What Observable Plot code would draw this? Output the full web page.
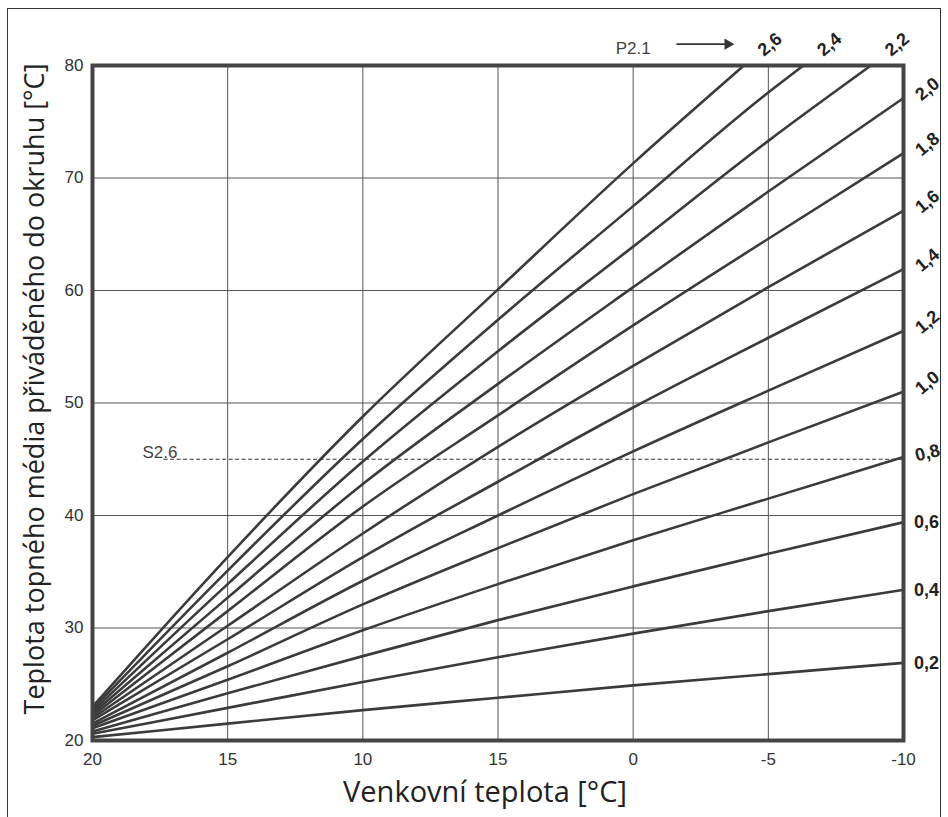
<!DOCTYPE html>
<html>
<head>
<meta charset="utf-8">
<script src="https://cdn.jsdelivr.net/npm/d3@7"></script>
<script src="https://cdn.jsdelivr.net/npm/@observablehq/plot@0.6"></script>
<style>
  html, body { margin: 0; padding: 0; background: #fff; }
  #wrap { position: relative; width: 948px; height: 817px; overflow: hidden; }
  #border { position: absolute; left: 7px; top: 8px; width: 934px; height: 900px; border: 1.5px solid #333; box-sizing: border-box; pointer-events: none; }
  #chart { position: absolute; left: 0; top: 0; }
</style>
</head>
<body>
<div id="wrap"><div id="chart"></div><div id="border"></div></div>
<script>
// Outdoor temperature sample points (°C), left to right
const outdoor = [20, 15, 10, 5, 0, -5, -10];
// Tick values and their printed labels (the original prints "15" at 5 °C)
const xTicks = [20, 15, 10, 5, 0, -5, -10];
const xTickLabels = ["20", "15", "10", "15", "0", "-5", "-10"];
const yTicks = [20, 30, 40, 50, 60, 70, 80];

// Curve names (slope) and flow temperature values read at the outdoor points
const slopes = ["0,2", "0,4", "0,6", "0,8", "1,0", "1,2", "1,4", "1,6", "1,8", "2,0", "2,2", "2,4", "2,6"];
const flow02 = [20.3, 21.5, 22.7, 23.8, 24.9, 25.9, 26.9];
const flow04 = [20.6, 22.9, 25.2, 27.4, 29.5, 31.5, 33.4];
const flow06 = [20.8, 24.2, 27.5, 30.7, 33.7, 36.6, 39.4];
const flow08 = [21.1, 25.4, 29.8, 33.9, 37.8, 41.5, 45.2];
const flow10 = [21.3, 26.6, 32.1, 37.1, 41.9, 46.5, 51.0];
const flow12 = [21.5, 27.8, 34.2, 40.0, 45.7, 51.1, 56.4];
const flow14 = [21.8, 29.0, 36.3, 43.0, 49.6, 55.8, 61.9];
const flow16 = [22.0, 30.2, 38.4, 46.1, 53.3, 60.3, 67.1];
const flow18 = [22.2, 31.5, 40.8, 48.9, 56.9, 64.6, 72.2];
const flow20 = [22.4, 32.7, 42.8, 51.7, 60.3, 68.8, 77.1];
const flow22 = [22.6, 33.9, 44.8, 54.6, 63.9, 73.3];
const flow24 = [22.8, 35.1, 46.8, 57.4, 67.5, 77.6];
const flow26 = [23.0, 36.3, 48.8, 60.1, 71.3];
// Outdoor temperature where the steepest curves reach the 80 °C top edge
const topCross = {"2,2": -8.8, "2,4": -6.3, "2,6": -4.1};
const topValue = 80;

// Annotations
const setpointValue = 45;      // S2.6 dashed line
const setpointStart = 17.35;
const flows = [flow02, flow04, flow06, flow08, flow10, flow12, flow14, flow16, flow18, flow20, flow22, flow24, flow26];

// Build table
const table = [];
slopes.forEach((s, k) => {
  flows[k].forEach((v, i) => table.push({slope: s, x: outdoor[i], y: v}));
  if (topCross[s] !== undefined) table.push({slope: s, x: topCross[s], y: topValue});
});

// Label tables: right-edge labels use the value at -10, top labels the crossing point
const rightLabels = slopes.slice(0, 10).map((s, k) => ({slope: s, x: -10, y: flows[k][flows[k].length - 1]}));
const rightRot = rightLabels.filter(d => ["1,0","1,2","1,4","1,6","1,8","2,0"].includes(d.slope));
const rightMid = rightLabels.filter(d => d.slope === "0,8");
const rightFlat = rightLabels.filter(d => ["0,2","0,4","0,6"].includes(d.slope));
const topLabels = ["2,2","2,4","2,6"].map(s => ({slope: s, x: topCross[s], y: topValue}));

const lineColor = "#3b3b3b";
const labelFont = "Liberation Sans, Arial, sans-serif";

const chart = Plot.plot({
  width: 948,
  height: 817,
  marginLeft: 92,
  marginRight: 45,
  marginTop: 65,
  marginBottom: 77,
  style: {fontFamily: labelFont, fontSize: "17px", color: "#333", background: "transparent", overflow: "visible"},
  x: {domain: [20, -10]},
  y: {domain: [20, 80]},
  marks: [
    Plot.gridX(xTicks.slice(1, -1), {stroke: "#555", strokeOpacity: 1, strokeWidth: 1}),
    Plot.gridY(yTicks.slice(1, -1), {stroke: "#555", strokeOpacity: 1, strokeWidth: 1}),
    Plot.axisX({ticks: xTicks, tickFormat: d => xTickLabels[xTicks.indexOf(d)], tickSize: 0, tickPadding: 12, label: null, fill: "#333"}),
    Plot.axisY({ticks: yTicks, tickFormat: d => String(d), tickSize: 0, tickPadding: 9, label: null, fill: "#333"}),
    Plot.ruleY([setpointValue], {x1: setpointStart, x2: -10, stroke: "#333", strokeWidth: 1.2, strokeDasharray: "4,2.5"}),
    Plot.text(["S2.6"], {x: 18.15, y: setpointValue, dy: -7, text: d => d, textAnchor: "start", fontSize: 17, fill: "#444"}),
    Plot.line(table, {x: "x", y: "y", z: "slope", curve: "monotone-x", stroke: lineColor, strokeWidth: 2.6}),
    Plot.frame({stroke: "#444", strokeWidth: 4}),
    // P2.1 arrow
    Plot.text(["P2.1"], {x: 0, y: 81.5, text: d => d, textAnchor: "middle", fontSize: 17, fill: "#444"}),
    Plot.link([{x1: -1.6, x2: -3.5, y: 81.9}], {x1: "x1", x2: "x2", y1: "y", y2: "y", stroke: "#333", strokeWidth: 1.8}),
    Plot.dot([{x: -3.5, y: 81.9}], {x: "x", y: "y", symbol: "triangle", rotate: 90, r: 4.2, fill: "#333", stroke: "none"}),
    // curve labels
    Plot.text(rightRot, {x: "x", y: "y", text: "slope", dx: 24, dy: -9, rotate: -40, fontWeight: "bold", fontSize: 18, fill: "#222"}),
    Plot.text(rightMid, {x: "x", y: "y", text: "slope", dx: 24, dy: -4, rotate: -14, fontWeight: "bold", fontSize: 18, fill: "#222"}),
    Plot.text(rightFlat, {x: "x", y: "y", text: "slope", dx: 23, dy: 0, fontWeight: "bold", fontSize: 18, fill: "#222"}),
    Plot.text(topLabels, {x: "x", y: "y", text: "slope", dx: 26, dy: -21, rotate: -40, fontWeight: "bold", fontSize: 18, fill: "#222"}),
    // axis titles
    Plot.text(["Teplota topného média přiváděného do okruhu [°C]"], {frameAnchor: "left", textAnchor: "middle", lineAnchor: "middle", text: d => d, rotate: -90, dx: -57, dy: -14, fontSize: 27, fontFamily: "Open Sans, sans-serif", fill: "#222"}),
    Plot.text(["Venkovní teplota [°C]"], {frameAnchor: "bottom", textAnchor: "middle", lineAnchor: "middle", text: d => d, dx: -13, dy: 52, fontSize: 29, fontFamily: "Open Sans, sans-serif", fill: "#222"})
  ]
});
document.getElementById("chart").appendChild(chart);
</script>
</body>
</html>
